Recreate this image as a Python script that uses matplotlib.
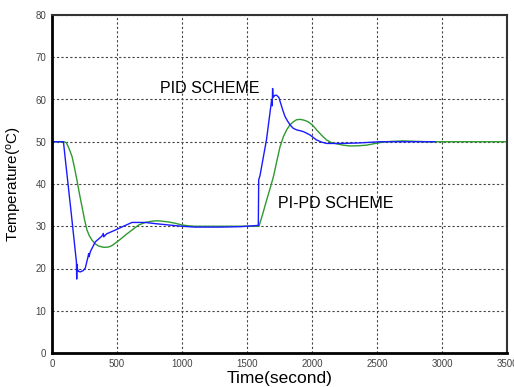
import matplotlib
matplotlib.use("Agg")
import matplotlib.pyplot as plt

plt.rcParams['font.family'] = ['Liberation Sans', 'DejaVu Sans']

# PID scheme (blue)
pid_t = [0, 88, 95, 103, 150, 188, 190, 192, 196, 205, 218, 240, 256, 275, 282, 285, 295, 333,
         385, 395, 398, 420, 487, 550, 615, 718, 800, 897, 1000, 1100, 1300, 1450, 1587,
         1590, 1600, 1650, 1690, 1694, 1697, 1700, 1715, 1728, 1745, 1760, 1775, 1792, 1810,
         1831, 1855, 1882, 1910, 1933, 1960, 1985, 2010, 2036, 2075, 2113, 2215, 2350, 2523,
         2700, 2946]
pid_T = [50, 50, 48, 45.7, 32.5, 21.5, 17.5, 21, 19.8, 19.3, 19.2, 19.5, 20.1, 22.5, 23.5, 22.8, 24, 26.3,
         27.7, 28.3, 27.5, 28.2, 29.1, 30.0, 30.9, 30.9, 30.6, 30.3, 30.0, 29.8, 29.8, 29.9, 30.2,
         41, 42, 50.5, 60, 58.5, 62.6, 60.5, 61, 61, 60.5, 59, 57.5, 56, 55,
         54, 53.2, 52.8, 52.6, 52.4, 52, 51.6, 51, 50.4, 49.9, 49.6, 49.6, 49.7, 50,
         50, 50]

# PI-PD scheme (green)
pipd_t = [0, 90, 110, 130, 154, 172, 192, 211, 231, 250, 269, 288, 308, 333, 359, 400, 436, 460,
          487, 525, 564, 615, 667, 718, 769, 808, 846, 900, 949, 1000, 1050, 1100, 1300,
          1592, 1620, 1651, 1680, 1703, 1730, 1754, 1780, 1805, 1830, 1856, 1880, 1908, 1940,
          1972, 2005, 2036, 2075, 2113, 2150, 2190, 2240, 2292, 2360, 2421, 2470, 2523, 2570,
          2620, 2700, 2800, 2900, 3500]
pipd_T = [50, 50, 49.8, 48.5, 46.5, 44, 40.9, 37.7, 34.6, 31.6, 29.1, 27.7, 26.7, 25.8, 25.3, 25.0, 25.1, 25.4,
          26.0, 26.9, 27.9, 29.1, 30.3, 30.9, 31.2, 31.3, 31.2, 31.0, 30.7, 30.3, 30.1, 30.0, 30.0,
          30.0, 32.8, 36.2, 39.2, 41.7, 45.5, 48.8, 51.2, 52.8, 54.0, 54.7, 55.2, 55.3, 55.1,
          54.7, 53.9, 52.8, 51.5, 50.4, 49.8, 49.5, 49.2, 49.0, 49.05, 49.2, 49.5, 49.8, 50.0,
          50.1, 50.2, 50.1, 50.0, 50.0]

x_ticks = [0, 500, 1000, 1500, 2000, 2500, 3000, 3500]
y_ticks = [0, 10, 20, 30, 40, 50, 60, 70, 80]

fig = plt.figure(figsize=(5.14, 3.87), dpi=100)
ax = fig.add_axes([52/514, 1 - 353/387, (507-52)/514, (353-15)/387])

ax.plot(pipd_t, pipd_T, color='#2e9a2e', lw=1.0)
ax.plot(pid_t, pid_T, color='#1a1aff', lw=1.0)

ax.set_xlim(0, 3500)
ax.set_ylim(0, 80)
ax.set_xticks(x_ticks)
ax.set_yticks(y_ticks)
ax.tick_params(length=0, labelsize=7, colors='#444444', pad=4)
ax.grid(True, color='#444444', linestyle=(0, (2, 2)), lw=0.8)
for s in ['left', 'bottom']:
    ax.spines[s].set_linewidth(2.0)
for s in ['top', 'right']:
    ax.spines[s].set_linewidth(1.5)
    ax.spines[s].set_color('#333333')

ax.set_xlabel('Time(second)', fontsize=12.5, labelpad=2)
ax.set_ylabel('Temperature($\\mathregular{^{o}}$C)', fontsize=11, labelpad=8)

ax.text(830, 62.7, 'PID SCHEME', fontsize=11.5, va='center', ha='left')
ax.text(1735, 35.5, 'PI-PD SCHEME', fontsize=11.5, va='center', ha='left')

fig.savefig('out.png', dpi=100)
